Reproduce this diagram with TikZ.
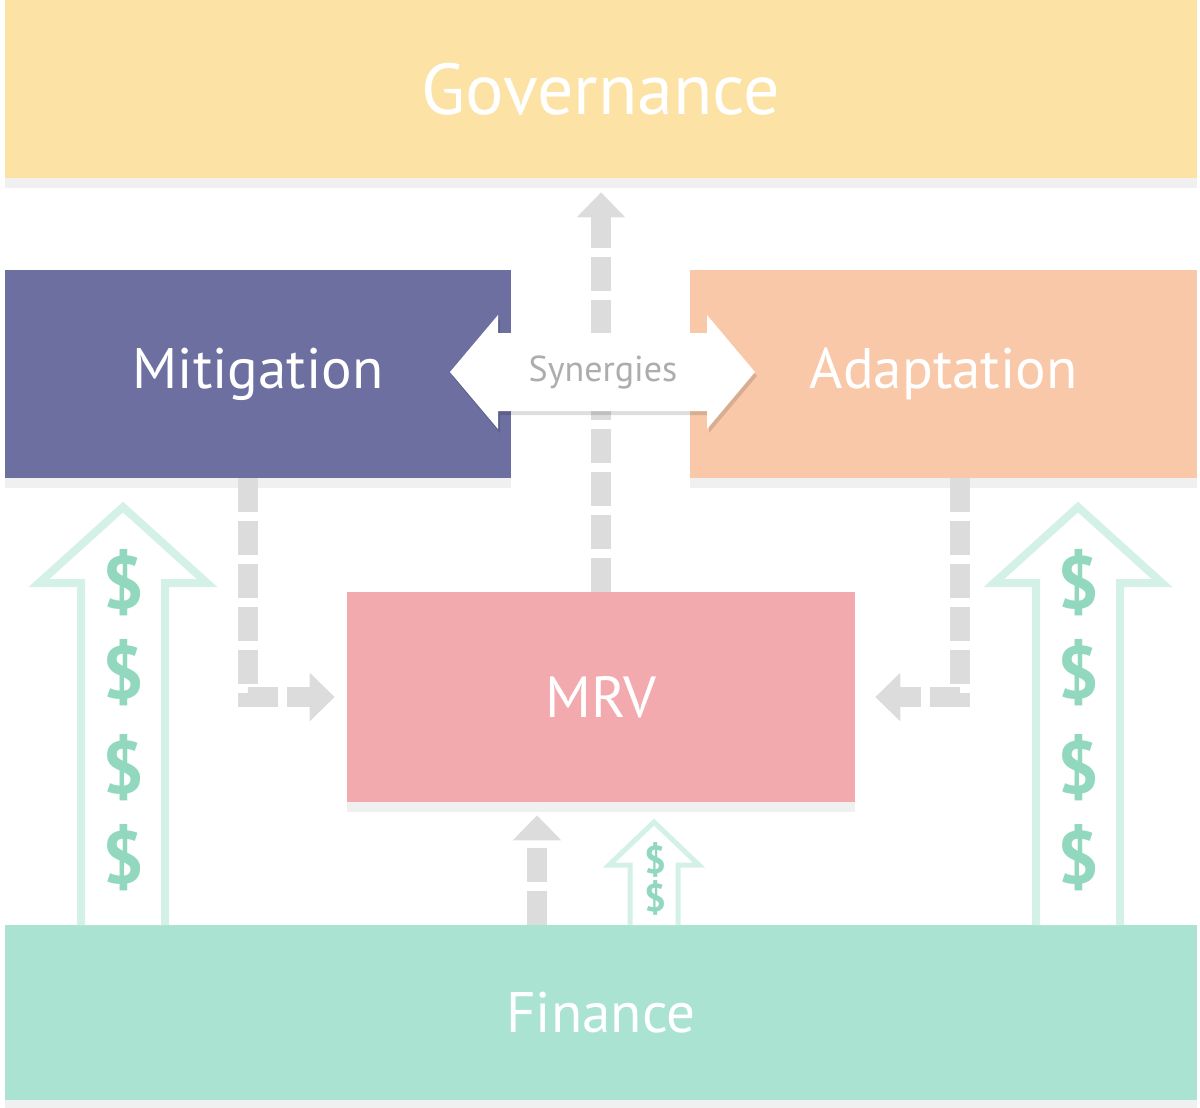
\documentclass[tikz,border=0pt]{standalone}
\usepackage{fontspec}
\setmainfont{PT Sans}
\usetikzlibrary{
    arrows.meta,
    shadows
}
\definecolor{govyellow}{HTML}{FCE2A4}
\definecolor{mitpurple}{HTML}{6C6FA0}
\definecolor{adaorange}{HTML}{F9C8A9}
\definecolor{mrvred}{HTML}{F2AAAF}
\definecolor{finmint}{HTML}{AAE3D2}
\definecolor{flowgrey}{HTML}{DCDCDC}
\definecolor{moneyline}{HTML}{D4F1E7}
\definecolor{moneysign}{HTML}{92D8BF}
\tikzset {
    box/.style = {
        rectangle, inner sep = 0pt, text = white,
        drop shadow = {shadow xshift = 0pt, shadow yshift = -0.2cm, fill = black!6, opacity = 1}
    },
    big text/.style = {font = \fontsize{#1}{#1}\selectfont},
    flow/.style = {
        draw = flowgrey, line width = 0.4cm, line join = miter,
        dash pattern = on 0.68cm off 0.18cm,
        -{Triangle[width = 0.94cm, length = 0.5cm]}
    },
    money arrow/.style = {draw = moneyline, fill = white, line width = 0.16cm, line join = miter},
    dollar/.style = {text = moneysign, inner sep = 0pt, font = \fontsize{#1}{#1}\selectfont\bfseries},
    dollar/.default = 42
}

\begin{document}
\begin{tikzpicture}[x = 0.02cm, y = -0.02cm]
    \useasboundingbox (0, 0) rectangle (1200, 1107);
    % boxes
    \node (gov) [box, fill = govyellow, big text = 41, minimum width = 23.84cm, minimum height = 3.56cm] at (601, 89) {Governance};
    \node (mit) [box, fill = mitpurple, big text = 32.5, minimum width = 10.12cm, minimum height = 4.16cm] at (258, 374) {Mitigation};
    \node (ada) [box, fill = adaorange, big text = 32.5, minimum width = 10.14cm, minimum height = 4.16cm] at (943.5, 374) {Adaptation};
    \node (mrv) [box, fill = mrvred, big text = 33, minimum width = 10.16cm, minimum height = 4.2cm] at (601, 697) {MRV};
    \node (fin) [box, fill = finmint, big text = 32.5, minimum width = 23.84cm, minimum height = 3.5cm] at (601, 1012.5) {Finance};
    % flows
    \draw [flow, shorten > = 0.28cm] (mrv.north) -- (gov.south);
    \draw [flow, shorten > = 0.24cm] ([xshift = -0.2cm]mit.south) |- (mrv.west);
    \draw [flow, shorten > = 0.4cm] ([xshift = 0.33cm]ada.south) |- (mrv.east);
    \draw [flow, shorten > = 0.26cm] ([xshift = -1.28cm]fin.north) -- ([xshift = -1.28cm]mrv.south);
    % money
    \foreach \c in {123, 1078} {
        \draw [money arrow] (\c - 42, 925) -- (\c - 42, 583) -- (\c - 84, 583) -- (\c, 507)
            -- (\c + 84, 583) -- (\c + 42, 583) -- (\c + 42, 925);
        \foreach \y in {583, 673, 768, 858}
            \node (dollar-\c-\y) [dollar] at (\c, \y) {\$};
    }
    \draw [money arrow, line width = 0.1cm] (630, 925) -- (630, 865) -- (609, 865) -- (654, 822)
        -- (699, 865) -- (678, 865) -- (678, 925);
    \foreach \y in {860, 898}
        \node (small-\y) [dollar = 22] at (655, \y) {\$};
    % synergies
    \fill [black, opacity = 0.13, shift = {(605, 376)}]
        (-153, 0) -- (-105, -57) -- (-105, -39) -- (104, -39) -- (104, -57) -- (152, 0)
        -- (104, 57) -- (104, 39) -- (-105, 39) -- (-105, 57) -- cycle;
    \fill [white, shift = {(603, 372)}]
        (-153, 0) -- (-105, -57) -- (-105, -39) -- (104, -39) -- (104, -57) -- (152, 0)
        -- (104, 57) -- (104, 39) -- (-105, 39) -- (-105, 57) -- cycle;
    \node (syn) [text = black!32, big text = 20.5] at (603, 372) {Synergies};
\end{tikzpicture}
\end{document}
